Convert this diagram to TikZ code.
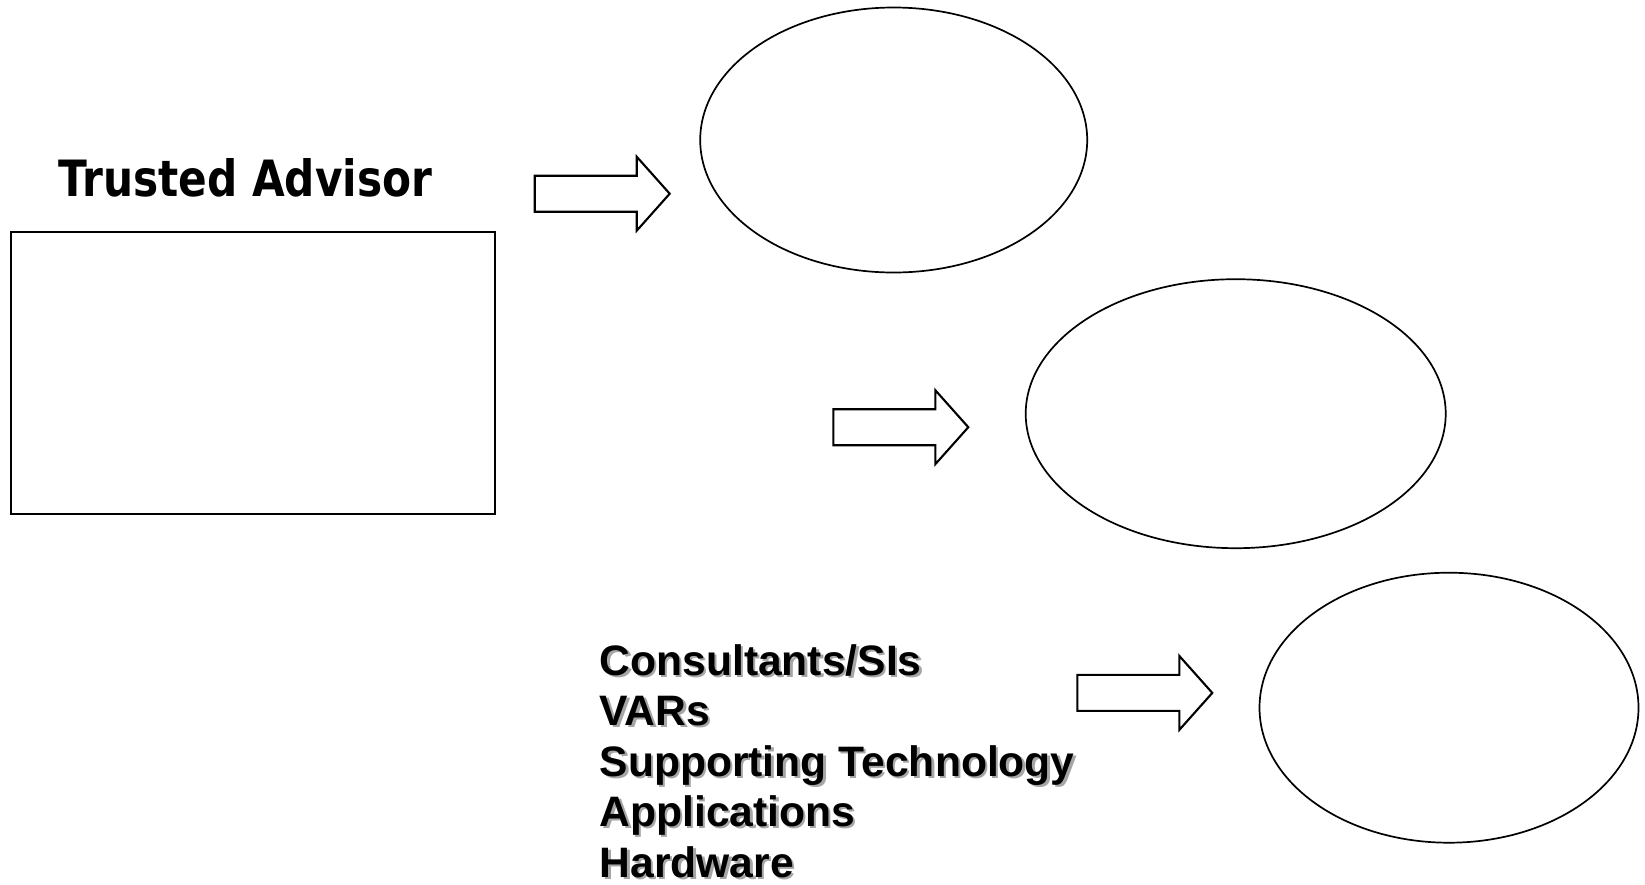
\documentclass[tikz,border=0pt]{standalone}
\usepackage{fontspec}
\setmainfont{Liberation Sans}
\newfontfamily\headfont{DejaVu Sans}
\usetikzlibrary{shapes.geometric}

\tikzset{
  oval/.style={draw=black, ellipse, line width=1.7pt, inner sep=0pt, fill=white},
  panel/.style={draw=black, rectangle, line width=2.1pt, inner sep=0pt, fill=white},
  arrowline/.style={draw=black, line width=2.1pt, fill=white, line join=miter},
  blockarrow/.pic={
    \draw[arrowline] (0,-18) -- (102,-18) -- (102,-37) -- (135,0)
                     -- (102,37) -- (102,18) -- (0,18) -- cycle;
  },
  headtxt/.style={anchor=base west, inner sep=0pt,
                  font=\headfont\fontsize{50}{60}\selectfont\bfseries},
  listtxt/.style={anchor=base west, inner sep=0pt,
                  font=\fontsize{42.6}{50}\selectfont\bfseries},
  listshadow/.style={listtxt, text=black!35},
}

\begin{document}
\begin{tikzpicture}[x=1pt, y=-1pt]
  % page area
  \path[fill=white] (0,0) rectangle (1645,884);
  \useasboundingbox (0,0) rectangle (1645,884);

  % heading and its empty panel
  \node[headtxt] (title) at (58,196) {\scalebox{0.845}[1]{Trusted Advisor}};
  \node[panel, minimum width=484pt, minimum height=282pt] (panel) at (253,373) {};

  % the three ovals
  \node[oval, minimum width=387pt, minimum height=265pt] (oval1) at (893.7,140) {};
  \node[oval, minimum width=420pt, minimum height=269pt] (oval2) at (1235.7,413.7) {};
  \node[oval, minimum width=379pt, minimum height=270pt] (oval3) at (1449,707.7) {};

  % block arrows pointing at the ovals
  \pic (arr1) at (534.7,193.7) {blockarrow};
  \pic (arr2) at (833.3,427.2) {blockarrow};
  \pic (arr3) at (1077.3,692.9) {blockarrow};

  % list of channel partners, with a soft drop shadow
  \foreach \t [count=\i from 0] in {Consultants/SIs, VARs, Supporting Technology, Applications, Hardware} {
    \node[listshadow] (shadow\i) at (601.8, 677.5+50.4*\i) {\t};
    \node[listtxt] (item\i) at (599.5, 675.5+50.4*\i) {\t};
  }
\end{tikzpicture}
\end{document}
